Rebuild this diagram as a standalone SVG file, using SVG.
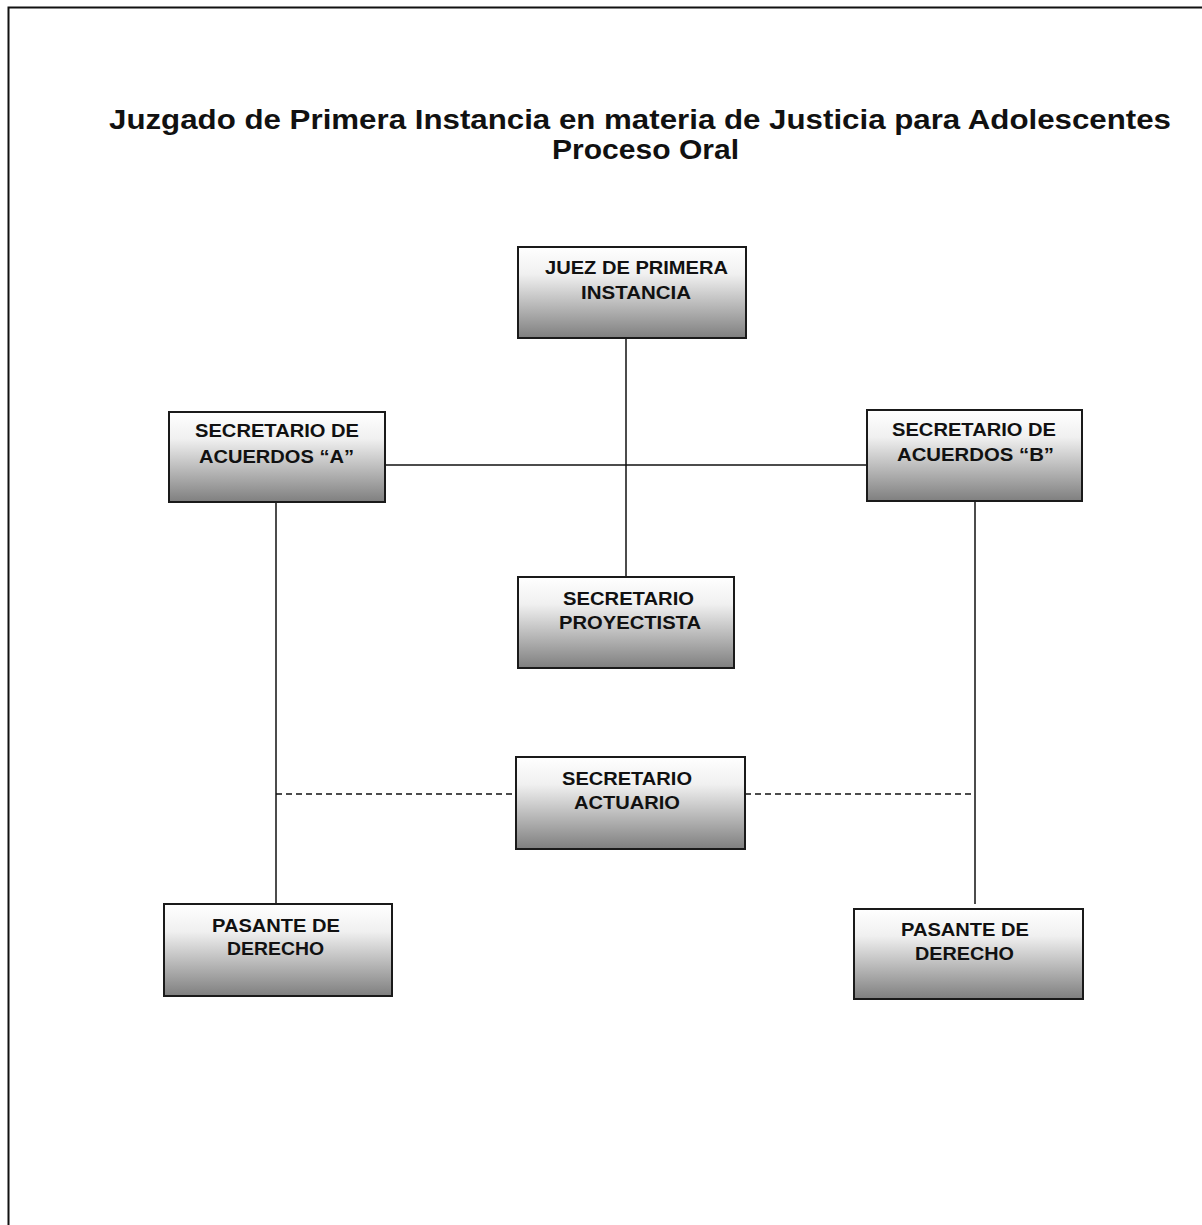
<svg xmlns="http://www.w3.org/2000/svg" width="1202" height="1225" viewBox="0 0 1202 1225">
<defs>
<linearGradient id="g" x1="0" y1="0" x2="0" y2="1">
<stop offset="0" stop-color="#ffffff"/>
<stop offset="0.3" stop-color="#f0f0f0"/>
<stop offset="1" stop-color="#7f7f7f"/>
</linearGradient>
<style>
.box{fill:url(#g);stroke:#1a1a1a;stroke-width:2}
.t{font-family:"Liberation Sans",Arial,sans-serif;font-weight:bold;font-size:18px;fill:#111}
.ti{font-family:"Liberation Sans",Arial,sans-serif;font-weight:bold;font-size:27.5px;fill:#111}
.c{stroke:#111;stroke-width:1.5;fill:none}
.d{stroke:#111;stroke-width:1.5;fill:none;stroke-dasharray:6 4}
</style>
</defs>
<rect width="1202" height="1225" fill="#fff"/>
<path d="M8.5 1225 V7.5 H1202" fill="none" stroke="#111" stroke-width="2"/>
<g id="title">
<text class="ti" x="109" y="129" textLength="1062" lengthAdjust="spacingAndGlyphs">Juzgado de Primera Instancia en materia de Justicia para Adolescentes</text>
<text class="ti" x="552" y="159" textLength="187" lengthAdjust="spacingAndGlyphs">Proceso Oral</text>
</g>
<g id="connectors">
<line class="c" x1="626" y1="339" x2="626" y2="577"/>
<line class="c" x1="385" y1="465" x2="867" y2="465"/>
<line class="c" x1="276" y1="502" x2="276" y2="904"/>
<line class="c" x1="975" y1="501" x2="975" y2="904"/>
<line class="d" x1="276" y1="794" x2="516" y2="794"/>
<line class="d" x1="745" y1="794" x2="975" y2="794"/>
</g>
<g id="juez">
<rect class="box" x="518" y="247" width="228" height="91"/>
<text class="t" x="545" y="274" textLength="183" lengthAdjust="spacingAndGlyphs">JUEZ DE PRIMERA</text>
<text class="t" x="581" y="299" textLength="110" lengthAdjust="spacingAndGlyphs">INSTANCIA</text>
</g>
<g id="secA">
<rect class="box" x="169" y="412" width="216" height="90"/>
<text class="t" x="195" y="437" textLength="164" lengthAdjust="spacingAndGlyphs">SECRETARIO DE</text>
<text class="t" x="199" y="463" textLength="155" lengthAdjust="spacingAndGlyphs">ACUERDOS “A”</text>
</g>
<g id="secB">
<rect class="box" x="867" y="410" width="215" height="91"/>
<text class="t" x="892" y="436" textLength="164" lengthAdjust="spacingAndGlyphs">SECRETARIO DE</text>
<text class="t" x="897" y="461" textLength="157" lengthAdjust="spacingAndGlyphs">ACUERDOS “B”</text>
</g>
<g id="proyectista">
<rect class="box" x="518" y="577" width="216" height="91"/>
<text class="t" x="563" y="605" textLength="131" lengthAdjust="spacingAndGlyphs">SECRETARIO</text>
<text class="t" x="559" y="629" textLength="142" lengthAdjust="spacingAndGlyphs">PROYECTISTA</text>
</g>
<g id="actuario">
<rect class="box" x="516" y="757" width="229" height="92"/>
<text class="t" x="562" y="785" textLength="130" lengthAdjust="spacingAndGlyphs">SECRETARIO</text>
<text class="t" x="574" y="809" textLength="106" lengthAdjust="spacingAndGlyphs">ACTUARIO</text>
</g>
<g id="pasanteA">
<rect class="box" x="164" y="904" width="228" height="92"/>
<text class="t" x="212" y="932" textLength="128" lengthAdjust="spacingAndGlyphs">PASANTE DE</text>
<text class="t" x="227" y="955" textLength="97" lengthAdjust="spacingAndGlyphs">DERECHO</text>
</g>
<g id="pasanteB">
<rect class="box" x="854" y="909" width="229" height="90"/>
<text class="t" x="901" y="936" textLength="128" lengthAdjust="spacingAndGlyphs">PASANTE DE</text>
<text class="t" x="915" y="960" textLength="99" lengthAdjust="spacingAndGlyphs">DERECHO</text>
</g>
</svg>
